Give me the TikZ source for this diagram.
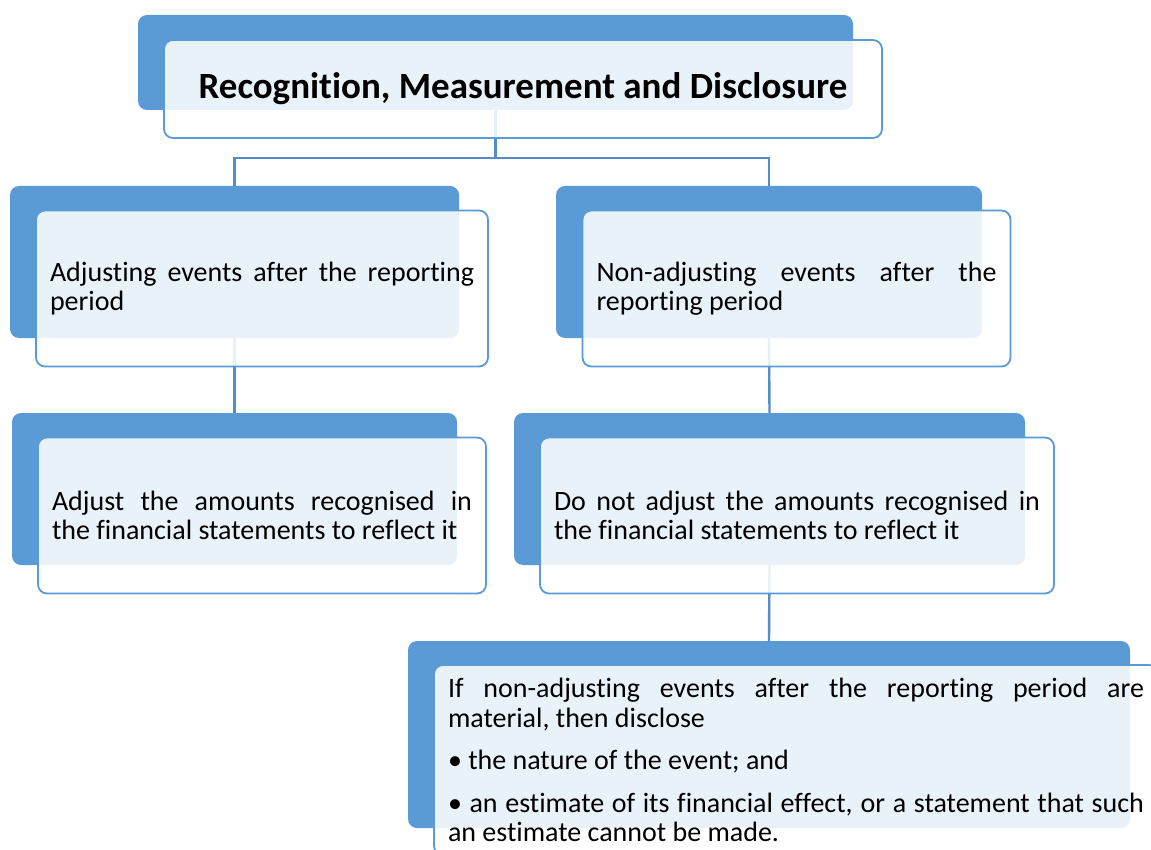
\documentclass[tikz,border=0pt]{standalone}
\usepackage{fontspec}
\setmainfont{Carlito}[Ligatures=NoCommon]
\usetikzlibrary{positioning,calc}
\definecolor{boxblue}{RGB}{91,155,213}
\definecolor{linkblue}{RGB}{84,140,198}
\hyphenpenalty=10000
\exhyphenpenalty=10000
\tolerance=9999

\tikzset{
  backbox/.style={fill=boxblue, rounded corners=9pt, inner sep=0pt},
  frontbox/.style={draw=boxblue, line width=1.8pt, fill=white, fill opacity=0.87,
    text opacity=1, rounded corners=9pt, inner xsep=14pt, inner ysep=0pt,
    align=justify, font=\fontsize{28}{29.5}\selectfont},
  link/.style={draw=linkblue, line width=2.4pt},
}

\begin{document}
\begin{tikzpicture}[x=1pt,y=1pt]
\useasboundingbox (0,0) rectangle (1151,-850);

% back boxes
\node[backbox, minimum width=715pt, minimum height=95pt] (rmd) at (495.5,-62.5) {};
\node[backbox, minimum width=449pt, minimum height=152pt] (adj) at (234.5,-262) {};
\node[backbox, minimum width=426pt, minimum height=152pt] (nonadj) at (769,-262) {};
\node[backbox, minimum width=445pt, minimum height=152pt] (adjamt) at (234.5,-489) {};
\node[backbox, minimum width=511pt, minimum height=152pt] (noadj) at (769.5,-489) {};
\node[backbox, minimum width=722pt, minimum height=187pt] (disc) at (769,-734.5) {};

% connectors
\draw[link] (rmd.south) -- ++(0,-48) -| (adj.north);
\draw[link] (rmd.south) -- ++(0,-48) -| (nonadj.north);
\draw[link] (adj.south) -- (adjamt.north);
\draw[link] (nonadj.south) -- (noadj.north);
\draw[link] (noadj.south) -- (disc.north);

% front boxes
\node[frontbox, minimum width=718pt, minimum height=98pt, align=center,
  font=\fontsize{37}{44}\selectfont\bfseries] (rmd-f) at ([shift={(27.5,-26.5)}]rmd.center)
  {Recognition, Measurement and Disclosure};
\node[frontbox, minimum width=452pt, minimum height=156pt, text width=424pt] (adj-f)
  at ([shift={(27.5,-26.5)}]adj.center) {Adjusting events after the reporting period};
\node[frontbox, minimum width=428pt, minimum height=156pt, text width=400pt] (nonadj-f)
  at ([shift={(27.5,-26.5)}]nonadj.center) {Non-adjusting events after the reporting period};
\node[frontbox, minimum width=448pt, minimum height=156pt, text width=420pt] (adjamt-f)
  at ([shift={(27.5,-26.5)}]adjamt.center) {Adjust the amounts recognised in\linebreak the financial statements to reflect it};
\node[frontbox, minimum width=514pt, minimum height=156pt, text width=486pt] (noadj-f)
  at ([shift={(27.5,-26.5)}]noadj.center) {Do not adjust the amounts recognised in the financial statements to reflect it};
\node[frontbox, minimum width=724pt, minimum height=190pt, text width=696pt] (disc-f)
  at ([shift={(27,-25.5)}]disc.center) {If non-adjusting events after the reporting period are\linebreak material, then disclose\par\vspace{13pt}
  \textbullet{} the nature of the event; and\par\vspace{13pt}
  \textbullet{} an estimate of its financial effect, or a statement that such an estimate cannot be made.};
\end{tikzpicture}
\end{document}
